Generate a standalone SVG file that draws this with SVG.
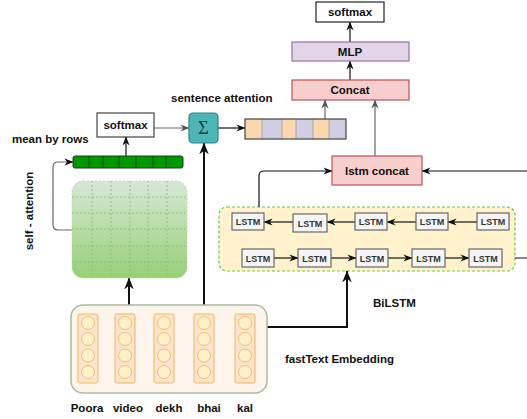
<svg xmlns="http://www.w3.org/2000/svg" width="527" height="419" viewBox="0 0 527 419">
<defs>
<style>
text{font-family:"Liberation Sans",Arial,sans-serif;font-weight:bold;fill:#111;}
.lbl{font-size:11.5px;}
.lstm rect{fill:#f5f5f5;stroke:#666;stroke-width:1.2;}
.lstm text{font-size:9px;fill:#333;text-anchor:middle;}
.c{fill:none;stroke:#111;stroke-width:1.2;}
.g{fill:none;stroke:#666;stroke-width:1.2;}
.t{fill:none;stroke:#111;stroke-width:2;}
.col{fill:#fde3cb;stroke:#e9b865;stroke-width:1;}
.dot{fill:#fff0c8;stroke:#e6c27a;stroke-width:1;}
.grid{stroke:#86bf6c;stroke-width:0.8;stroke-dasharray:2 2;fill:none;}
</style>
<marker id="a" viewBox="0 0 10 10" refX="9.5" refY="5" markerWidth="9" markerHeight="9" markerUnits="userSpaceOnUse" orient="auto"><path d="M0,1 L10,5 L0,9 L3,5 z" fill="#111"/></marker>
<marker id="ag" viewBox="0 0 10 10" refX="9.5" refY="5" markerWidth="9" markerHeight="9" markerUnits="userSpaceOnUse" orient="auto"><path d="M0,1 L10,5 L0,9 L3,5 z" fill="#555"/></marker>
<marker id="at" viewBox="0 0 10 10" refX="9.5" refY="5" markerWidth="12" markerHeight="12" markerUnits="userSpaceOnUse" orient="auto"><path d="M0,1 L10,5 L0,9 L3,5 z" fill="#111"/></marker>
<linearGradient id="gg" x1="0" y1="0" x2="0" y2="1"><stop offset="0" stop-color="#d5e8d4"/><stop offset="1" stop-color="#97d077"/></linearGradient>
</defs>

<g id="bilstm">
<rect x="219" y="207" width="296" height="64" rx="8" fill="#fff2cc" stroke="#66cc44" stroke-width="1.2" stroke-dasharray="3 2"/>
</g>

<g id="connectors">
<path class="c" d="M350,42 L350,22" marker-end="url(#a)"/>
<path class="c" d="M350,80 L350,61" marker-end="url(#a)"/>
<path class="g" d="M375,156 L375,100" marker-end="url(#ag)"/>
<path class="g" d="M325,119 L325,100" marker-end="url(#ag)"/>
<path class="c" d="M218,128 L245,128" marker-end="url(#a)"/>
<path class="g" d="M154,128 L189,128" marker-end="url(#ag)"/>
<path class="c" d="M126,156 L126,137" marker-end="url(#a)"/>
<path class="g" d="M72,230 L58,230 Q53,230 53,225 L53,167 Q53,162 58,162 L73,162" marker-end="url(#a)"/>
<path class="t" d="M129,305 L129,278" marker-end="url(#at)"/>
<path class="t" d="M204,305 L204,143" marker-end="url(#at)"/>
<path class="t" d="M267,327 L347,327 L347,271" marker-end="url(#at)"/>
<path class="c" d="M259,207 L259,176 Q259,171 264,171 L332,171" marker-end="url(#a)"/>
<path class="c" d="M515,258 L540,258 L540,171 L422,171" marker-end="url(#a)"/>
<path class="c" d="M293,222 L264,222" marker-end="url(#a)"/>
<path class="c" d="M355,222 L327,222" marker-end="url(#a)"/>
<path class="c" d="M416,222 L387,222" marker-end="url(#a)"/>
<path class="c" d="M477,222 L448,222" marker-end="url(#a)"/>
<path class="c" d="M274,258 L298,258" marker-end="url(#a)"/>
<path class="c" d="M331,258 L356,258" marker-end="url(#a)"/>
<path class="c" d="M388,258 L412,258" marker-end="url(#a)"/>
<path class="c" d="M445,258 L469,258" marker-end="url(#a)"/>
</g>

<g id="softmax-top"><rect x="316" y="2" width="68" height="20" fill="#fff" stroke="#222" stroke-width="1.2"/><text class="lbl" x="350" y="16" text-anchor="middle">softmax</text></g>
<g id="mlp"><rect x="292" y="42" width="117" height="19" fill="#e1d5e7" stroke="#9673a6" stroke-width="1.2"/><text class="lbl" x="350" y="55.5" text-anchor="middle">MLP</text></g>
<g id="concat"><rect x="292" y="80" width="117" height="20" fill="#f8cecc" stroke="#b85450" stroke-width="1.2"/><text class="lbl" x="350" y="94" text-anchor="middle">Concat</text></g>
<g id="lstm-concat"><rect x="332" y="156" width="90" height="29" fill="#f8cecc" stroke="#b85450" stroke-width="1.2"/><text class="lbl" x="377" y="175" text-anchor="middle">lstm concat</text></g>

<g id="sentence-vector">
<rect x="245" y="119" width="17" height="20" fill="#fad7ac"/>
<rect x="262" y="119" width="20" height="20" fill="#d0cee2"/>
<rect x="282" y="119" width="14" height="20" fill="#fad7ac"/>
<rect x="296" y="119" width="17" height="20" fill="#d0cee2"/>
<rect x="313" y="119" width="16" height="20" fill="#fad7ac"/>
<rect x="329" y="119" width="17" height="20" fill="#d0cee2"/>
<path d="M262,119 V139 M282,119 V139 M296,119 V139 M313,119 V139 M329,119 V139" stroke="#999" stroke-width="0.8"/>
<rect x="245" y="119" width="101" height="20" fill="none" stroke="#444" stroke-width="1.2"/>
</g>
<g id="sigma"><rect x="189" y="113" width="29" height="30" rx="4" fill="#4db6b6" stroke="#2a8585" stroke-width="1.2"/><text x="203.5" y="134" text-anchor="middle" style="font-family:'Liberation Serif',serif;font-weight:normal;font-size:18px;fill:#163c3c">Σ</text></g>
<text class="lbl" x="171" y="102">sentence attention</text>

<g id="softmax-left"><rect x="97" y="113" width="57" height="24" fill="#fff" stroke="#444" stroke-width="1.2"/><text class="lbl" x="125.5" y="129" text-anchor="middle">softmax</text></g>
<text class="lbl" x="12" y="143">mean by rows</text>

<g id="mean-bar">
<rect x="73" y="156" width="110" height="12" rx="2" fill="#009900" stroke="#1a3d1a" stroke-width="1"/>
<path d="M89,156 V168 M103,156 V168 M119,156 V168 M136,156 V168 M153,156 V168 M166,156 V168" stroke="#1a3d1a" stroke-width="1"/>
</g>

<g id="self-attention">
<rect x="72" y="181" width="115" height="97" rx="11" fill="url(#gg)"/>
<path class="grid" d="M92,181 V278 M111,181 V278 M130,181 V278 M148,181 V278 M167,181 V278 M72,197 H187 M72,213 H187 M72,229 H187 M72,246 H187 M72,262 H187"/>
<rect x="72" y="181" width="115" height="97" rx="11" fill="none" stroke="#b7d8a6" stroke-width="0.8" stroke-dasharray="2 2"/>
</g>
<text class="lbl" transform="translate(33,211) rotate(-90)" text-anchor="middle">self - attention</text>

<g id="embedding">
<rect x="71" y="305" width="196" height="88" rx="12" fill="#fdf5ec" stroke="#a9bba1" stroke-width="1.5"/>
<rect class="col" x="78" y="314" width="20" height="69" rx="2"/>
<rect class="col" x="115" y="314" width="20" height="69" rx="2"/>
<rect class="col" x="154" y="314" width="20" height="69" rx="2"/>
<rect class="col" x="194" y="314" width="20" height="69" rx="2"/>
<rect class="col" x="235" y="314" width="20" height="69" rx="2"/>
<g class="dot">
<circle cx="88" cy="323" r="6.5"/><circle cx="88" cy="339" r="6.5"/><circle cx="88" cy="355.5" r="6.5"/><circle cx="88" cy="372" r="6.5"/>
<circle cx="125" cy="323" r="6.5"/><circle cx="125" cy="339" r="6.5"/><circle cx="125" cy="355.5" r="6.5"/><circle cx="125" cy="372" r="6.5"/>
<circle cx="164" cy="323" r="6.5"/><circle cx="164" cy="339" r="6.5"/><circle cx="164" cy="355.5" r="6.5"/><circle cx="164" cy="372" r="6.5"/>
<circle cx="204" cy="323" r="6.5"/><circle cx="204" cy="339" r="6.5"/><circle cx="204" cy="355.5" r="6.5"/><circle cx="204" cy="372" r="6.5"/>
<circle cx="245" cy="323" r="6.5"/><circle cx="245" cy="339" r="6.5"/><circle cx="245" cy="355.5" r="6.5"/><circle cx="245" cy="372" r="6.5"/>
</g>
</g>
<g id="words">
<text class="lbl" x="87" y="412" text-anchor="middle">Poora</text>
<text class="lbl" x="128" y="412" text-anchor="middle">video</text>
<text class="lbl" x="169" y="412" text-anchor="middle">dekh</text>
<text class="lbl" x="209" y="412" text-anchor="middle">bhai</text>
<text class="lbl" x="245" y="412" text-anchor="middle">kal</text>
</g>
<text class="lbl" x="285" y="363">fastText Embedding</text>

<g id="lstm-t1" class="lstm"><rect x="232" y="213" width="32" height="17"/><text x="248" y="225">LSTM</text></g>
<g id="lstm-t2" class="lstm"><rect x="293" y="214" width="34" height="18"/><text x="310" y="226.5">LSTM</text></g>
<g id="lstm-t3" class="lstm"><rect x="355" y="213" width="32" height="17"/><text x="371" y="225">LSTM</text></g>
<g id="lstm-t4" class="lstm"><rect x="416" y="213" width="32" height="17"/><text x="432" y="225">LSTM</text></g>
<g id="lstm-t5" class="lstm"><rect x="477" y="213" width="32" height="17"/><text x="493" y="225">LSTM</text></g>
<g id="lstm-b1" class="lstm"><rect x="242" y="249" width="32" height="18"/><text x="258" y="261.5">LSTM</text></g>
<g id="lstm-b2" class="lstm"><rect x="298" y="249" width="33" height="18"/><text x="314.5" y="261.5">LSTM</text></g>
<g id="lstm-b3" class="lstm"><rect x="356" y="249" width="32" height="18"/><text x="372" y="261.5">LSTM</text></g>
<g id="lstm-b4" class="lstm"><rect x="412" y="249" width="33" height="18"/><text x="428.5" y="261.5">LSTM</text></g>
<g id="lstm-b5" class="lstm"><rect x="469" y="249" width="33" height="18"/><text x="485.5" y="261.5">LSTM</text></g>
<text class="lbl" x="373" y="307">BiLSTM</text>
</svg>
